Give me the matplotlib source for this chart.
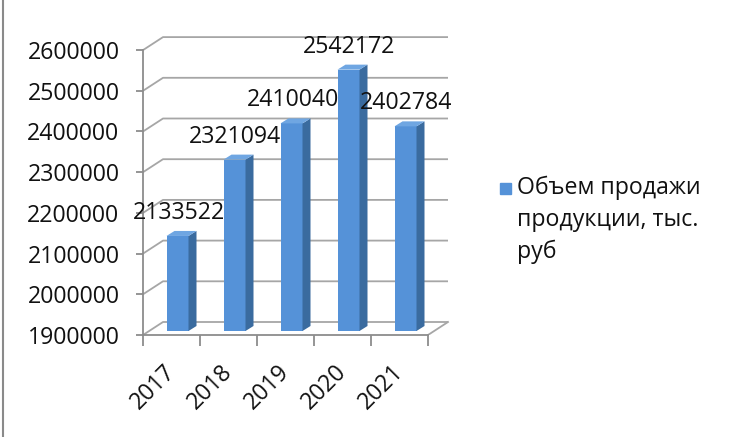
import matplotlib.pyplot as plt
from matplotlib.patches import Rectangle

plt.rcParams['font.family'] = ['Open Sans', 'DejaVu Sans']

years = ['2017', '2018', '2019', '2020', '2021']
sales = [2133522, 2321094, 2410040, 2542172, 2402784]
y_ticks = [1900000, 2000000, 2100000, 2200000, 2300000, 2400000, 2500000, 2600000]
legend_lines = ['Объем продажи', 'продукции, тыс.', 'руб']

W, H = 731, 437
PX_X = 57.0          # pixels per category
PX_Y = 40.7          # pixels per 100000
Y0, Y1 = 1900000, 2660000
XL, XR = -0.5, 4.9
FS = 16.7


def px_to_dx(p):
    return p / PX_X


def px_to_dy(p):
    return p / PX_Y * 100000


fig = plt.figure(figsize=(W / 100, H / 100), dpi=100)
ax_w = (XR - XL) * PX_X / W
ax_h = (Y1 - Y0) / 100000 * PX_Y / H
ax = fig.add_axes([143 / W, (H - 335) / H, ax_w, ax_h])
ax.set_xlim(XL, XR)
ax.set_ylim(Y0, Y1)

grid_c = '#a6a6a6'
axis_c = '#8c8c8c'

# back wall offset
wdx, wdy = px_to_dx(20), px_to_dy(13)
n = len(years)
for v in y_ticks:
    ax.plot([XL, XL + wdx, n - 0.5 + wdx], [v, v + wdy, v + wdy],
            color=grid_c, lw=1.3, zorder=1, solid_capstyle='butt')
# floor right edge
ax.plot([n - 0.5, n - 0.5 + wdx], [Y0, Y0 + wdy], color=grid_c, lw=1.3, zorder=1)

# bars (pseudo 3D)
bw = px_to_dx(22)
ox, oy = px_to_dx(6), px_to_dy(4)
bdx, bdy = px_to_dx(8), px_to_dy(5)
front_c, side_c, top_c = '#5592d8', '#3a6b9f', '#6fa6e2'
for i, v in enumerate(sales):
    xl = i - bw / 2 + ox
    xr = xl + bw
    yb = Y0 + oy
    yt = v + oy
    ax.fill([xl, xr, xr, xl], [yb, yb, yt, yt], color=front_c, zorder=3, lw=0)
    ax.fill([xr, xr + bdx, xr + bdx, xr], [yb, yb + bdy, yt + bdy, yt],
            color=side_c, zorder=3, lw=0)
    ax.fill([xl, xr, xr + bdx, xl + bdx], [yt, yt, yt + bdy, yt + bdy],
            color=top_c, zorder=3, lw=0)
    ax.annotate(f'{v}', xy=(xl + bw / 2, yt), xytext=(1, 23),
                textcoords='offset pixels', ha='center', va='center',
                fontsize=FS, color='#111111', zorder=5)

for s in ['top', 'right']:
    ax.spines[s].set_visible(False)
ax.spines['left'].set_bounds(Y0, y_ticks[-1])
ax.spines['bottom'].set_bounds(XL, n - 0.5)
ax.spines['left'].set_color(axis_c)
ax.spines['bottom'].set_color(axis_c)
ax.spines['left'].set_linewidth(1.3)
ax.spines['bottom'].set_linewidth(1.3)

ax.set_yticks(y_ticks)
ax.set_yticklabels([str(t) for t in y_ticks])
ax.tick_params(axis='y', length=5, width=1.3, color=axis_c, pad=12,
               labelsize=FS, labelcolor='#111111')

ax.set_xticks(range(n))
ax.set_xticklabels(years, rotation=45, ha='right', va='center',
                   rotation_mode='anchor')
ax.tick_params(axis='x', which='major', length=0, pad=24,
               labelsize=FS, labelcolor='#111111')
ax.set_xticks([i - 0.5 for i in range(n + 1)], minor=True)
ax.tick_params(axis='x', which='minor', length=8, width=1.3, color=axis_c)

# legend
fig.patches.append(Rectangle((500 / W, 1 - 194 / H), 11 / W, 11 / H,
                             transform=fig.transFigure, color=front_c))
for k, line in enumerate(legend_lines):
    fig.text(517 / W, 1 - (188 + 32 * k) / H, line, fontsize=FS,
             color='#111111', va='center', ha='left')

# chart border (left edge only visible)
fig.add_artist(plt.Line2D([2.5 / W, 2.5 / W], [0, 1], transform=fig.transFigure,
                          color='#8a8a8a', lw=1.5))

fig.savefig('out.png', dpi=100)
